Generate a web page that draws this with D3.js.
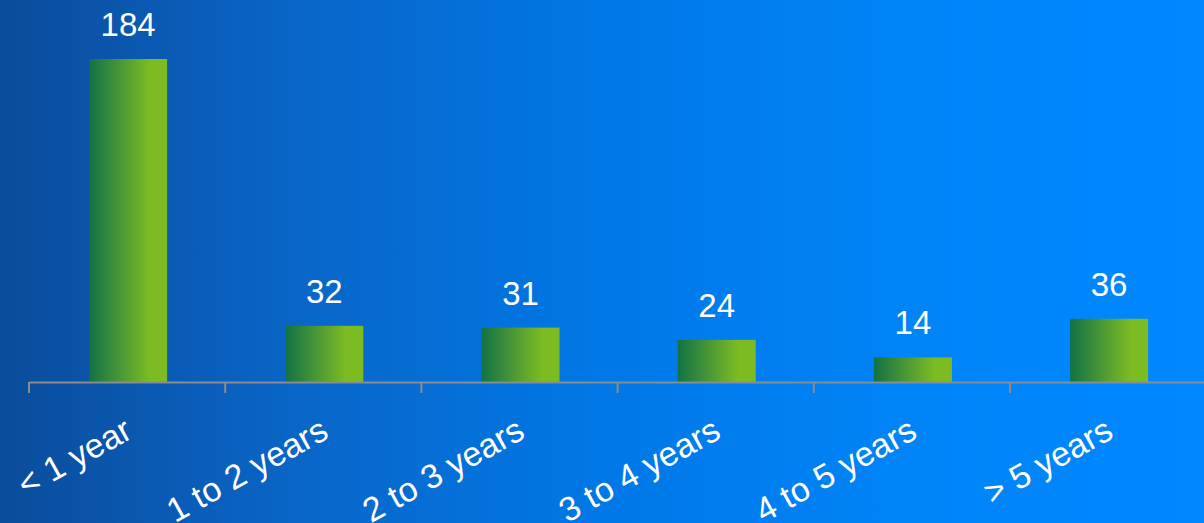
<!DOCTYPE html>
<html><head><meta charset="utf-8">
<script src="https://cdn.jsdelivr.net/npm/d3@7"></script>
<style>html,body{margin:0;padding:0;overflow:hidden;}svg{display:block;}</style>
</head><body>
<svg id="c" width="1204" height="523"></svg>
<script>
const categories = ["< 1 year", "1 to 2 years", "2 to 3 years", "3 to 4 years", "4 to 5 years", "> 5 years"];
const values = [184, 32, 31, 24, 14, 36];

const W = 1204, H = 523;
const svg = d3.select("#c");
const defs = svg.append("defs");
const bg = defs.append("linearGradient").attr("id", "bg").attr("x1", "0").attr("x2", "1").attr("y1", "0").attr("y2", "0");
[["0", "#0b4c9b"], ["0.25", "#0966c8"], ["0.5", "#0078e6"], ["0.75", "#0084f8"], ["1", "#0088ff"]]
  .forEach(([o, c]) => bg.append("stop").attr("offset", o).attr("stop-color", c));
const bar = defs.append("linearGradient").attr("id", "bar").attr("x1", "0").attr("x2", "1").attr("y1", "0").attr("y2", "0");
[["0", "#127245"], ["0.4", "#4a9736"], ["0.78", "#7cbc22"], ["1", "#7cbc22"]]
  .forEach(([o, c]) => bar.append("stop").attr("offset", o).attr("stop-color", c));

svg.append("rect").attr("width", W).attr("height", H).attr("fill", "url(#bg)");

const x = d3.scaleBand().domain(categories).range([29, 29 + 6 * 196.2]).padding(0);
const y = d3.scaleLinear().domain([0, 184]).range([382, 59]);

const bw = 78;
svg.selectAll("rect.bar").data(values).join("rect").attr("class", "bar")
  .attr("x", (d, i) => x(categories[i]) + x.bandwidth() / 2 - bw / 2 + 1)
  .attr("width", bw)
  .attr("y", d => y(d))
  .attr("height", d => y(0) - y(d))
  .attr("fill", "url(#bar)");

svg.selectAll("text.val").data(values).join("text").attr("class", "val")
  .attr("x", (d, i) => x(categories[i]) + x.bandwidth() / 2 + 1)
  .attr("y", d => y(d) - 23)
  .attr("text-anchor", "middle")
  .attr("fill", "#ffffff")
  .style("font-family", "'Liberation Sans', Arial, sans-serif")
  .style("font-size", "33px")
  .text(d => d);

const axis = d3.axisBottom(x).tickSizeInner(11).tickSizeOuter(0).tickFormat("");
const g = svg.append("g").attr("transform", "translate(0,382)").call(axis);
g.select(".domain").attr("stroke", "#8c8c8c").attr("stroke-width", 2);
g.selectAll(".tick").remove();
const bounds = d3.range(categories.length + 1).map(i => 29 + i * x.step());
g.selectAll("line.tk").data(bounds).join("line").attr("class", "tk")
  .attr("x1", d => d).attr("x2", d => d).attr("y1", 0).attr("y2", 11)
  .attr("stroke", "#8c8c8c").attr("stroke-width", 2);

svg.selectAll("text.lab").data(categories).join("text").attr("class", "lab")
  .attr("transform", d => `translate(${x(d) + x.bandwidth() / 2 + 7},${437}) rotate(-29)`)
  .attr("text-anchor", "end")
  .attr("fill", "#ffffff")
  .style("font-family", "'Liberation Sans', Arial, sans-serif")
  .style("font-size", "34px")
  .text(d => d);
</script>
</body></html>
